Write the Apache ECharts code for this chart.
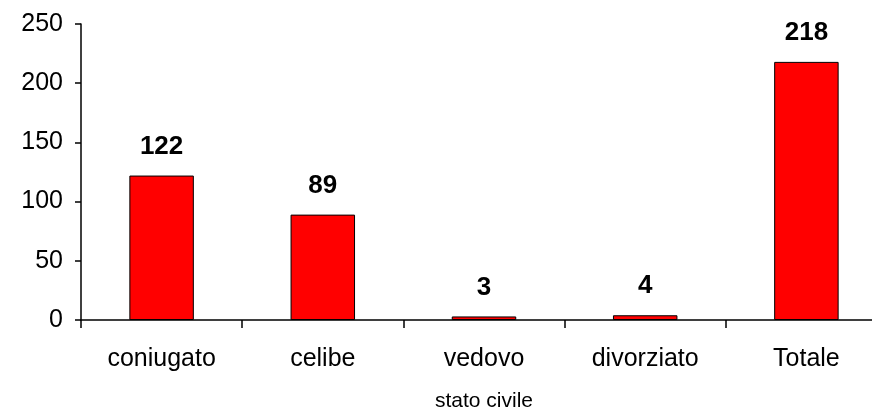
<!DOCTYPE html>
<html>
<head>
<meta charset="utf-8">
<script src="https://cdn.jsdelivr.net/npm/echarts@6/dist/echarts.min.js"></script>
<style>
html,body{margin:0;padding:0;background:#fff;}
#chart{width:872px;height:411px;}
</style>
</head>
<body>
<div id="chart"></div>
<script>
const categories = ['coniugato', 'celibe', 'vedovo', 'divorziato', 'Totale'];
const values = [122, 89, 3, 4, 218];
const yTicks = [0, 50, 100, 150, 200, 250];
const xAxisName = 'stato civile';

const chart = echarts.init(document.getElementById('chart'), null, {renderer: 'canvas'});
const font = '"Liberation Sans", Arial, sans-serif';
chart.setOption({
  animation: false,
  backgroundColor: '#ffffff',
  grid: {left: 81, width: 806, top: 24, height: 296, containLabel: false, outerBoundsMode: 'none'},
  xAxis: {
    type: 'category',
    data: categories,
    boundaryGap: true,
    name: xAxisName,
    nameLocation: 'middle',
    nameGap: 71,
    nameTextStyle: {fontFamily: font, fontSize: 21, color: '#000'},
    axisLine: {lineStyle: {color: '#000', width: 1.5}},
    axisTick: {show: true, length: 8, lineStyle: {color: '#000', width: 1.5}},
    axisLabel: {fontFamily: font, fontSize: 25, color: '#000', margin: 27},
    splitLine: {show: false}
  },
  yAxis: {
    type: 'value',
    min: yTicks[0],
    max: yTicks[yTicks.length - 1],
    interval: yTicks[1] - yTicks[0],
    axisLine: {show: true, lineStyle: {color: '#000', width: 1.5}},
    axisTick: {show: true, length: 6, lineStyle: {color: '#000', width: 1.5}},
    axisLabel: {fontFamily: font, fontSize: 25, color: '#000', margin: 18},
    splitLine: {show: false}
  },
  series: [{
    type: 'bar',
    data: values,
    barWidth: '40%',
    itemStyle: {color: '#ff0000', borderColor: '#000', borderWidth: 1},
    label: {
      show: true,
      position: 'top',
      distance: 16,
      fontFamily: font,
      fontSize: 26,
      fontWeight: 'bold',
      color: '#000'
    }
  }]
});
</script>
</body>
</html>
